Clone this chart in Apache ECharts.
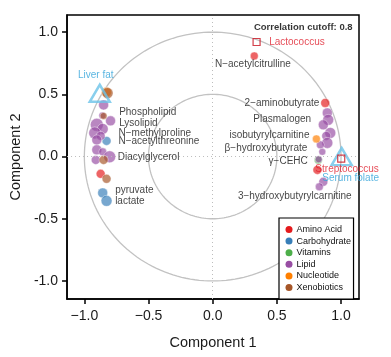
<!DOCTYPE html>
<html>
<head>
<meta charset="utf-8">
<script src="https://cdn.jsdelivr.net/npm/echarts@6/dist/echarts.min.js"></script>
<style>
html,body{margin:0;padding:0;background:#fff;}
#chart{width:391px;height:357px;}
</style>
</head>
<body>
<div id="chart"></div>
<script>
// ---- data (component loadings; third value = relative importance) ----
const classNames = ['Amino Acid', 'Carbohydrate', 'Vitamins', 'Lipid', 'Nucleotide', 'Xenobiotics'];
const aminoAcid = [[-0.873, -0.139, 4], [0.877, 0.431, 4], [0.816, -0.107, 4], [0.324, 0.809, 3]];
const carbohydrate = [[-0.827, 0.126, 4], [-0.857, -0.292, 5], [-0.827, -0.356, 6]];
const vitamins = [[0.823, -0.027, 3]];
const lipid = [
  [-0.850, 0.415, 5], [-0.796, 0.287, 5], [-0.903, 0.255, 8], [-0.857, 0.222, 6],
  [-0.919, 0.190, 7], [-0.873, 0.166, 4], [-0.903, 0.134, 5], [-0.903, 0.054, 5],
  [-0.857, 0.038, 3], [-0.803, -0.002, 7], [-0.911, -0.027, 4], [-0.860, 0.330, 2],
  [0.893, 0.351, 5], [0.900, 0.295, 6], [0.862, 0.255, 5], [0.916, 0.190, 6],
  [0.885, 0.166, 4], [0.893, 0.110, 6], [0.839, 0.094, 3], [0.854, 0.038, 2],
  [0.826, -0.022, 2], [0.862, -0.203, 4], [0.831, -0.243, 3]
];
const nucleotide = [[0.808, 0.142, 3], [-0.828, 0.518, 5]];
const xenobiotics = [[-0.819, 0.510, 6], [-0.850, 0.327, 2], [-0.850, -0.027, 4], [-0.827, -0.179, 4]];

const clinical = [['Liver fat', -0.880, 0.509], ['Serum folate', 1.005, 0.0]];
const bacteria = [['Lactococcus', 0.342, 0.921], ['Streptococcus', 1.0015, -0.016]];

const metaboliteLabels = ['Phospholipid', 'Lysolipid', 'N\u2212methylproline', 'N\u2212acetylthreonine', 'Diacylglycerol', 'pyruvate', 'lactate'];
const metaboliteLabelX = [-0.729, -0.729, -0.734, -0.734, -0.740, -0.760, -0.760];
const metaboliteLabelY = [0.353, 0.268, 0.188, 0.120, -0.005, -0.273, -0.356];
const rightLabels = ['2\u2212aminobutyrate', 'Plasmalogen', 'isobutyrylcarnitine', '\u03b2\u2212hydroxybutyrate', '\u03b3\u2212CEHC', '3\u2212hydroxybutyrylcarnitine'];
const rightLabelX = [0.831, 0.767, 0.754, 0.737, 0.741, 1.082];
const rightLabelY = [0.428, 0.300, 0.174, 0.067, -0.035, -0.321];
const topLabel = ['N\u2212acetylcitrulline', 0.018, 0.745];
const clinicalLabelPos = [[-0.911, 0.656, 'center'], [0.854, -0.171, 'left']];
const bacteriaLabelPos = [[0.44, 0.921, 'left'], [0.80, -0.099, 'left']];
const cutoffText = ['Correlation cutoff: 0.8', 1.090, 1.042];

const circleRadii = [0.5, 1.0];
const axisTicks = [-1, -0.5, 0, 0.5, 1];
const xRange = [-1.135, 1.14];
const yRange = [-1.145, 1.138];

// ---- styles ----
const classColors = ['#E41A1C', '#377EB8', '#4DAF4A', '#984EA3', '#FF7F00', '#A65628'];
const FONT = "'Liberation Sans', Arial, Helvetica, sans-serif";
const classData = [aminoAcid, carbohydrate, vitamins, lipid, nucleotide, xenobiotics];

const chart = echarts.init(document.getElementById('chart'), null, {renderer: 'canvas'});

const labelData = [];
metaboliteLabels.forEach((t, i) => labelData.push({value: [metaboliteLabelX[i], metaboliteLabelY[i]], name: t, label: {align: 'left'}}));
rightLabels.forEach((t, i) => labelData.push({value: [rightLabelX[i], rightLabelY[i]], name: t, label: {align: 'right'}}));
labelData.push({value: [topLabel[1], topLabel[2]], name: topLabel[0], label: {align: 'left'}});
clinical.forEach((c, i) => labelData.push({value: [clinicalLabelPos[i][0], clinicalLabelPos[i][1]], name: c[0], label: {align: clinicalLabelPos[i][2], color: '#2fa3da'}}));
bacteria.forEach((c, i) => labelData.push({value: [bacteriaLabelPos[i][0], bacteriaLabelPos[i][1]], name: c[0], label: {align: bacteriaLabelPos[i][2], color: '#e0202e'}}));
labelData.push({value: [cutoffText[1], cutoffText[2]], name: cutoffText[0], label: {align: 'right', fontWeight: 'bold', fontSize: 9.5, color: '#000'}});

const series = [];
series.push({
  type: 'custom', coordinateSystem: 'cartesian2d', silent: true, z: 1,
  data: circleRadii.map(r => [0, 0, r]),
  encode: {x: 0, y: 1},
  renderItem: (params, api) => {
    const r = api.value(2);
    const pts = [];
    for (let a = 0; a <= 360; a += 2) {
      const t = a * Math.PI / 180;
      pts.push(api.coord([r * Math.cos(t), r * Math.sin(t)]));
    }
    return {type: 'polyline', shape: {points: pts}, style: {stroke: '#c2c2c2', lineWidth: 1.3, fill: null}};
  }
});
series.push({
  type: 'scatter', name: '_zero', data: [], z: 1, silent: true,
  markLine: {
    silent: true, symbol: 'none', label: {show: false},
    lineStyle: {type: [1, 3], color: '#bdbdbd', width: 1},
    data: [{xAxis: 0}, {yAxis: 0}]
  }
});
classNames.forEach((n, i) => {
  series.push({
    type: 'scatter', name: n, z: 3,
    data: classData[i],
    symbol: 'circle',
    symbolSize: v => 5 + v[2],
    itemStyle: {color: classColors[i], opacity: 0.68, borderColor: '#fff', borderWidth: 0.6}
  });
});
series.push({
  type: 'scatter', name: '_clinical', z: 4,
  data: clinical.map(c => [c[1], c[2]]),
  symbol: 'triangle', symbolSize: [20, 17],
  itemStyle: {color: 'rgba(0,0,0,0)', borderColor: '#6cc3e8', borderWidth: 2.5}
});
series.push({
  type: 'scatter', name: '_bacteria', z: 4,
  data: bacteria.map(c => [c[1], c[2]]),
  symbol: 'rect', symbolSize: 7,
  itemStyle: {color: 'rgba(0,0,0,0)', borderColor: '#c8101e', borderWidth: 1.2}
});
series.push({
  type: 'scatter', name: '_labels', z: 5, silent: true,
  data: labelData, symbolSize: 0,
  label: {show: true, position: 'inside', formatter: p => p.name, fontFamily: FONT, fontSize: 10, color: '#111', verticalAlign: 'middle'}
});

const fmtX = v => v.toFixed(1).replace('-', '\u2212');
const fmtY = v => v.toFixed(1);

chart.setOption({
  animation: false,
  backgroundColor: '#fff',
  textStyle: {fontFamily: FONT},
  grid: {left: 63, right: 32, top: 15, bottom: 58, show: true, borderColor: '#000', borderWidth: 1.5, backgroundColor: 'transparent'},
  xAxis: {
    type: 'value', min: xRange[0], max: xRange[1],
    name: 'Component 1', nameLocation: 'middle', nameGap: 36,
    nameTextStyle: {fontSize: 14.5, color: '#1a1a1a', fontFamily: FONT},
    axisLine: {show: true, onZero: false, lineStyle: {color: '#000', width: 1.5}},
    axisTick: {show: true, length: 5, lineStyle: {color: '#000', width: 1.5}, customValues: axisTicks},
    axisLabel: {fontSize: 14, color: '#1a1a1a', margin: 10, formatter: fmtX, customValues: axisTicks, fontFamily: FONT},
    splitLine: {show: false}
  },
  yAxis: {
    type: 'value', min: yRange[0], max: yRange[1],
    name: 'Component 2', nameLocation: 'middle', nameGap: 37,
    nameTextStyle: {fontSize: 14.5, color: '#1a1a1a', fontFamily: FONT},
    axisLine: {show: true, onZero: false, lineStyle: {color: '#000', width: 1.5}},
    axisTick: {show: true, length: 5, lineStyle: {color: '#000', width: 1.5}, customValues: axisTicks},
    axisLabel: {fontSize: 14, color: '#1a1a1a', margin: 9, formatter: fmtY, customValues: axisTicks, fontFamily: FONT},
    splitLine: {show: false}
  },
  legend: {
    data: classNames, orient: 'vertical', left: 279, top: 218,
    icon: 'circle', itemWidth: 7, itemHeight: 7, itemGap: 2.6,
    padding: [7, 2.5, 7, 6.5],
    backgroundColor: '#fff', borderColor: '#000', borderWidth: 1.2, borderRadius: 0,
    itemStyle: {opacity: 1, borderWidth: 0},
    textStyle: {fontSize: 9, lineHeight: 9, color: '#111', fontFamily: FONT, padding: [0, 0, 0, -1]},
    z: 10, selectedMode: false
  },
  series: series
});
</script>
</body>
</html>
